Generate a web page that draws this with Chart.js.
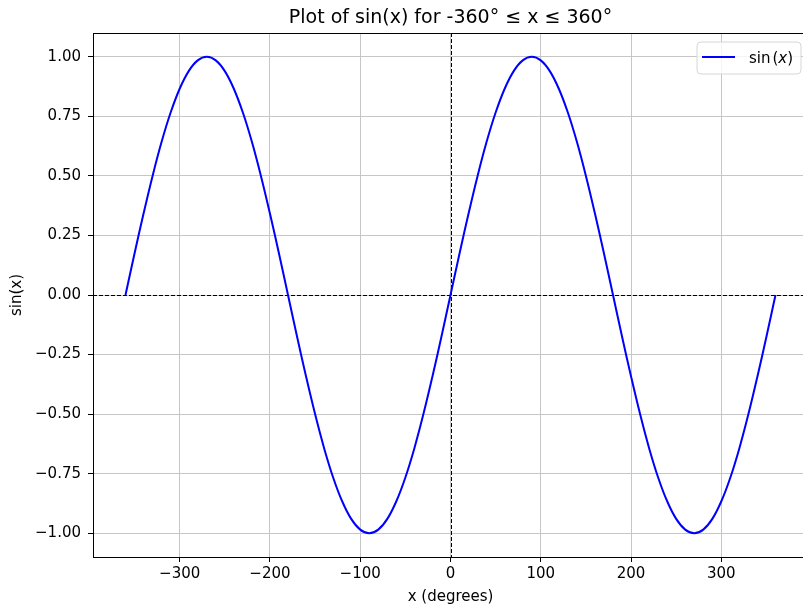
<!DOCTYPE html>
<html>
<head>
<meta charset="utf-8">
<script src="https://cdn.jsdelivr.net/npm/chart.js@4/dist/chart.umd.min.js"></script>
<style>
  html, body { margin: 0; padding: 0; background: #fff; overflow: hidden; }
  #wrap { width: 810px; height: 609px; }
</style>
</head>
<body>
<div id="wrap"><canvas id="c" width="810" height="609"></canvas></div>
<script>
// ---- data ----
const xDegrees = [
  -360, -350, -340, -330, -320, -310, -300, -290, -280, -270, -260, -250,
  -240, -230, -220, -210, -200, -190, -180, -170, -160, -150, -140, -130,
  -120, -110, -100, -90, -80, -70, -60, -50, -40, -30, -20, -10,
  0, 10, 20, 30, 40, 50, 60, 70, 80, 90, 100, 110,
  120, 130, 140, 150, 160, 170, 180, 190, 200, 210, 220, 230,
  240, 250, 260, 270, 280, 290, 300, 310, 320, 330, 340, 350, 360
];
const sinValues = [
  0.000, 0.174, 0.342, 0.500, 0.643, 0.766, 0.866, 0.940, 0.985, 1.000, 0.985, 0.940,
  0.866, 0.766, 0.643, 0.500, 0.342, 0.174, 0.000, -0.174, -0.342, -0.500, -0.643, -0.766,
  -0.866, -0.940, -0.985, -1.000, -0.985, -0.940, -0.866, -0.766, -0.643, -0.500, -0.342, -0.174,
  0.000, 0.174, 0.342, 0.500, 0.643, 0.766, 0.866, 0.940, 0.985, 1.000, 0.985, 0.940,
  0.866, 0.766, 0.643, 0.500, 0.342, 0.174, 0.000, -0.174, -0.342, -0.500, -0.643, -0.766,
  -0.866, -0.940, -0.985, -1.000, -0.985, -0.940, -0.866, -0.766, -0.643, -0.500, -0.342, -0.174, 0.000
];
const xTicks = [-300, -200, -100, 0, 100, 200, 300];
const yTicks = [-1.00, -0.75, -0.50, -0.25, 0.00, 0.25, 0.50, 0.75, 1.00];
const xRange = [-396, 396];
const yRange = [-1.1, 1.1];
const refLineX = [0];
const refLineY = [0];
const titleText = 'Plot of sin(x) for -360° ≤ x ≤ 360°';
const xLabel = 'x (degrees)';
const yLabel = 'sin(x)';
const seriesLabel = 'sin(x)';

const FONT = 'DejaVu Sans';
const points = xDegrees.map((x, i) => ({ x: x, y: sinValues[i] }));

const fmt = v => {
  const s = v.toFixed(2);
  return s.startsWith('-') ? '\u2212' + s.slice(1) : s;
};
const fmtX = v => (v < 0 ? '\u2212' + Math.abs(v) : String(v));

const decor = {
  id: 'decor',
  beforeDatasetsDraw(chart) {
    const { ctx, chartArea: a, scales } = chart;
    ctx.save();
    ctx.strokeStyle = '#000';
    ctx.lineWidth = 1;
    ctx.setLineDash([4, 2]);
    refLineY.forEach(v => {
      const y = Math.round(scales.y.getPixelForValue(v)) + 0.5;
      ctx.beginPath(); ctx.moveTo(a.left, y); ctx.lineTo(a.right, y); ctx.stroke();
    });
    refLineX.forEach(v => {
      const x = Math.round(scales.x.getPixelForValue(v)) + 0.5;
      ctx.beginPath(); ctx.moveTo(x, a.top); ctx.lineTo(x, a.bottom); ctx.stroke();
    });
    ctx.restore();
  },
  afterDatasetsDraw(chart) {
    const { ctx, chartArea: a } = chart;
    ctx.save();
    // title centred over the axes
    ctx.fillStyle = '#000';
    ctx.font = '19px "' + FONT + '"';
    ctx.textAlign = 'center';
    ctx.textBaseline = 'alphabetic';
    ctx.fillText(titleText, (a.left + a.right) / 2, a.top - 10);

    // top and right spines
    ctx.strokeStyle = '#000';
    ctx.lineWidth = 1;
    ctx.beginPath();
    ctx.moveTo(a.left, Math.round(a.top) + 0.5);
    ctx.lineTo(a.right, Math.round(a.top) + 0.5);
    ctx.moveTo(Math.round(a.right) - 0.5, a.top);
    ctx.lineTo(Math.round(a.right) - 0.5, a.bottom);
    ctx.stroke();

    // legend box
    const bw = 104, bh = 32;
    const bx = a.right - 7 - bw, by = a.top + 9;
    const r = 4;
    ctx.beginPath();
    ctx.moveTo(bx + r, by);
    ctx.lineTo(bx + bw - r, by); ctx.quadraticCurveTo(bx + bw, by, bx + bw, by + r);
    ctx.lineTo(bx + bw, by + bh - r); ctx.quadraticCurveTo(bx + bw, by + bh, bx + bw - r, by + bh);
    ctx.lineTo(bx + r, by + bh); ctx.quadraticCurveTo(bx, by + bh, bx, by + bh - r);
    ctx.lineTo(bx, by + r); ctx.quadraticCurveTo(bx, by, bx + r, by);
    ctx.closePath();
    ctx.fillStyle = 'rgba(255,255,255,0.8)';
    ctx.fill();
    ctx.strokeStyle = '#d6d6d6';
    ctx.lineWidth = 1;
    ctx.stroke();

    const ds = chart.data.datasets[0];
    const ly = by + 15;
    ctx.strokeStyle = ds.borderColor;
    ctx.lineWidth = 2;
    ctx.beginPath(); ctx.moveTo(bx + 5, ly); ctx.lineTo(bx + 38, ly); ctx.stroke();

    // label "sin(x)" with italic x (mathtext style)
    const m = ds.label.match(/^(.*)\((.*)\)$/);
    let tx = bx + 52;
    const base = ly + 6;
    ctx.fillStyle = '#000';
    ctx.textBaseline = 'alphabetic';
    ctx.textAlign = 'left';
    ctx.font = '15px "' + FONT + '"';
    ctx.fillText(m[1], tx, base); tx += ctx.measureText(m[1]).width + 2;
    ctx.fillText('(', tx, base); tx += ctx.measureText('(').width;
    ctx.font = 'oblique 15px "' + FONT + '"';
    ctx.fillText(m[2], tx, base); tx += ctx.measureText(m[2]).width;
    ctx.font = '15px "' + FONT + '"';
    ctx.fillText(')', tx, base);
    ctx.restore();
  }
};

new Chart(document.getElementById('c'), {
  type: 'line',
  data: {
    datasets: [{
      label: seriesLabel,
      data: points,
      borderColor: '#0000ff',
      borderWidth: 2,
      pointRadius: 0,
      fill: false,
      tension: 0.4
    }]
  },
  options: {
    responsive: false,
    animation: false,
    devicePixelRatio: 1,
    layout: { padding: { left: 0, right: 2, top: 33, bottom: 0 } },
    plugins: {
      legend: { display: false },
      tooltip: { enabled: false },
      title: { display: false }
    },
    scales: {
      x: {
        type: 'linear',
        min: xRange[0], max: xRange[1],
        afterBuildTicks: s => { s.ticks = xTicks.map(v => ({ value: v })); },
        afterFit: s => { s.height = 52; },
        ticks: {
          callback: v => fmtX(v),
          color: '#000',
          font: { family: FONT, size: 15 },
          padding: 3,
          maxRotation: 0
        },
        grid: { color: '#c6c6c6', lineWidth: 1, tickLength: 5, tickColor: '#000' },
        border: { display: true, color: '#000', width: 1 },
        title: {
          display: true, text: xLabel, color: '#000',
          font: { family: FONT, size: 15 },
          padding: { top: 0, bottom: 3 }
        }
      },
      y: {
        type: 'linear',
        min: yRange[0], max: yRange[1],
        afterBuildTicks: s => { s.ticks = yTicks.map(v => ({ value: v })); },
        afterFit: s => { s.width = 93; },
        ticks: {
          callback: v => fmt(v),
          color: '#000',
          font: { family: FONT, size: 15 },
          padding: 7
        },
        grid: { color: '#c6c6c6', lineWidth: 1, tickLength: 5, tickColor: '#000' },
        border: { display: true, color: '#000', width: 1 },
        title: {
          display: true, text: yLabel, color: '#000',
          font: { family: FONT, size: 15 },
          padding: { top: 8, bottom: 0 }
        }
      }
    }
  },
  plugins: [decor]
});
</script>
</body>
</html>
